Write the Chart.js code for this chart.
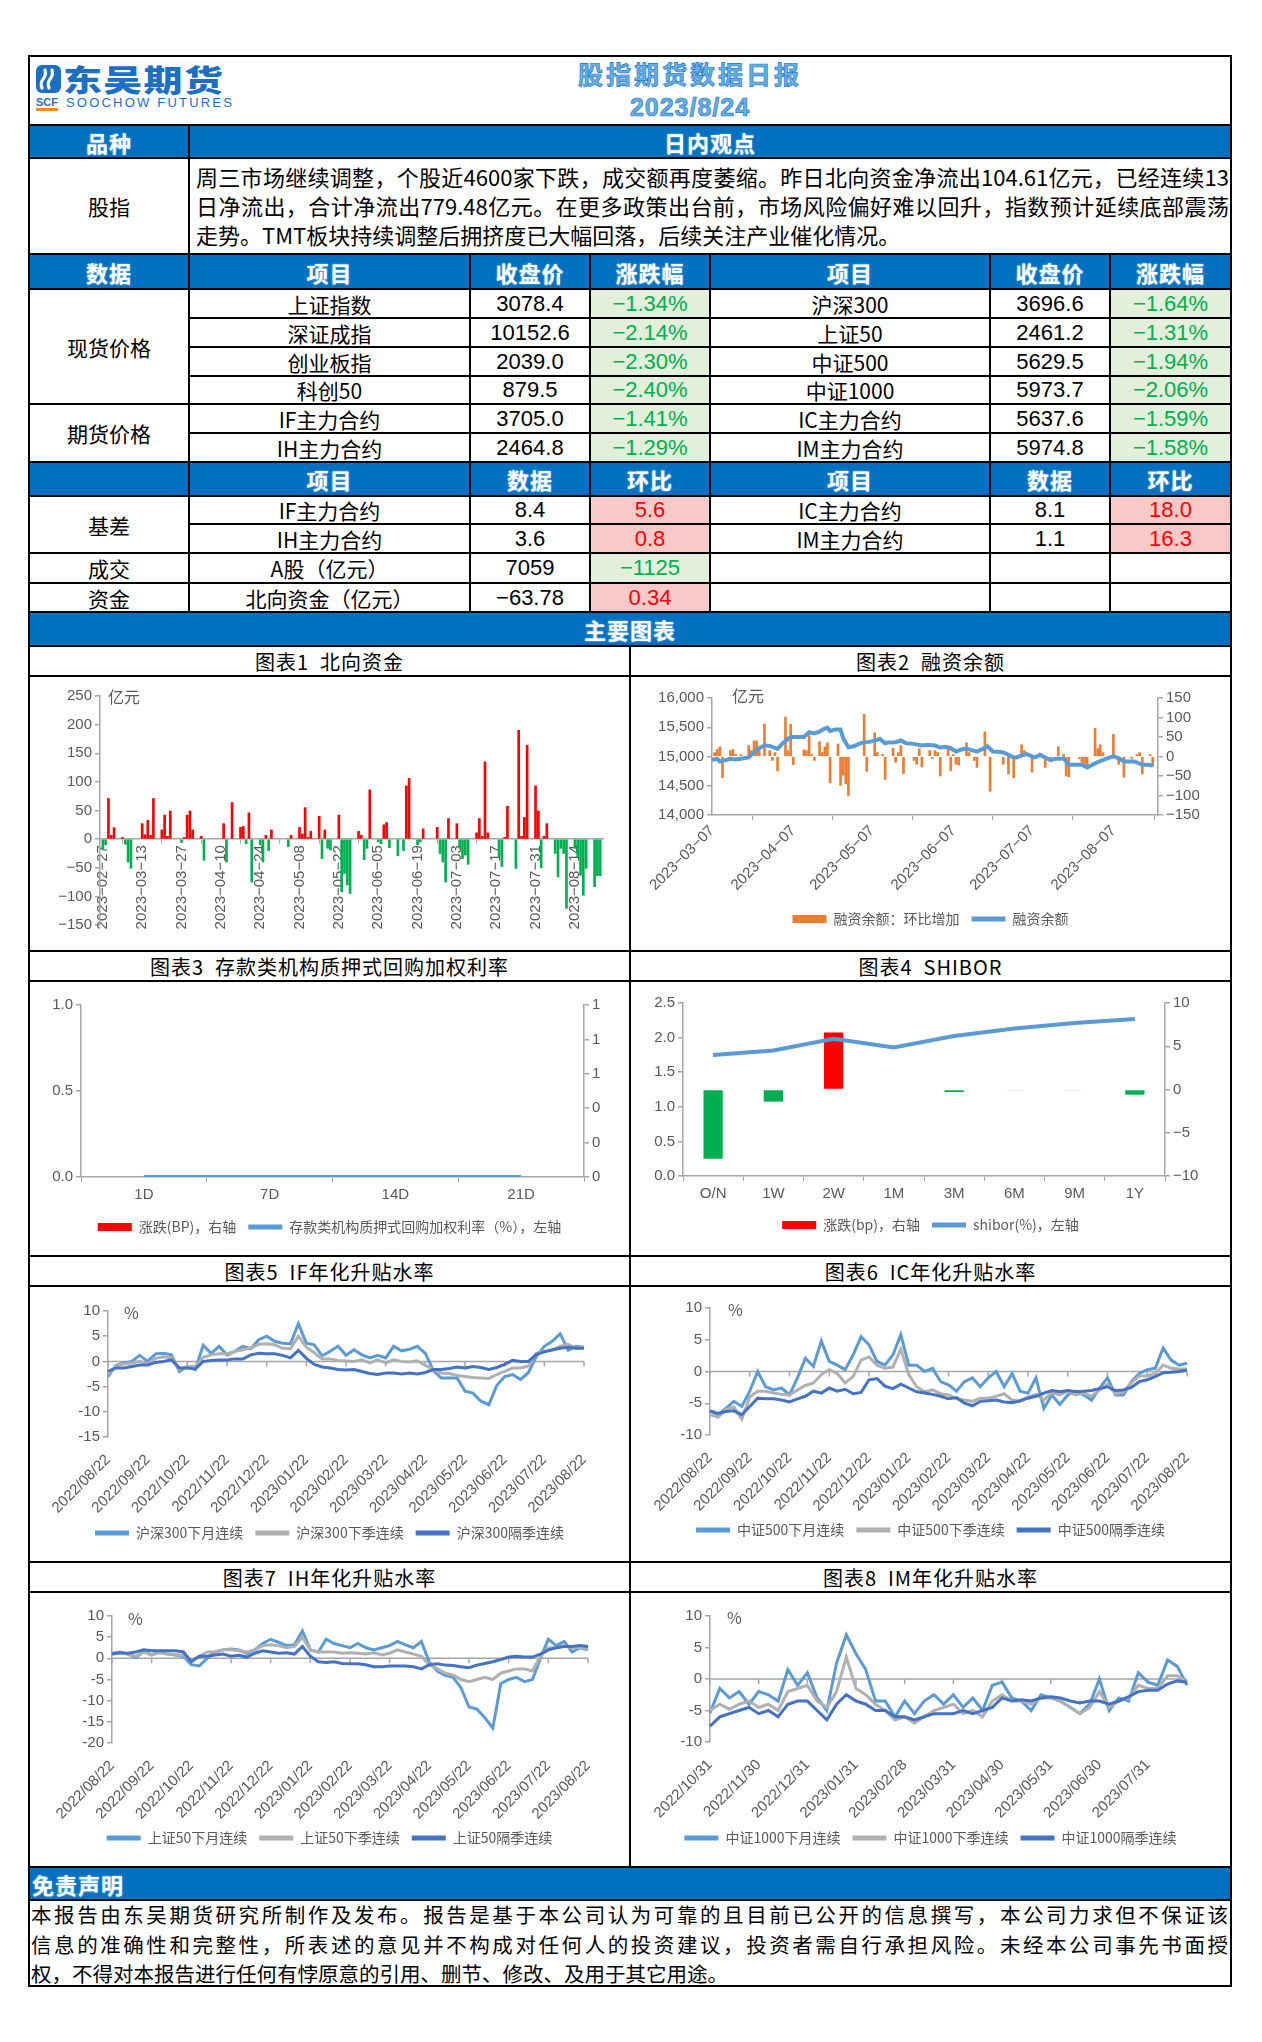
<!DOCTYPE html>
<html lang="zh-CN">
<head>
<meta charset="utf-8">
<title>股指期货数据日报</title>
<script src="https://cdn.jsdelivr.net/npm/chart.js@4.4.1/dist/chart.umd.min.js"></script>
<style>
  html, body { margin: 0; padding: 0; background: #fff; }
  body { width: 1262px; height: 2042px; position: relative; overflow: hidden;
         font-family: "Noto Sans CJK SC", "Liberation Sans", sans-serif; }
  .cell { position: absolute; box-sizing: border-box; border: 1px solid #000; background: #fff;
          display: flex; align-items: center; justify-content: center; white-space: nowrap;
          font-size: 21px; color: #000; overflow: hidden; }
  .blue { background: #0070c0; color: #fff; font-weight: 700; font-size: 22px; letter-spacing: 1px;
          text-shadow: 0 0 2px #9fd4ff; }
  .left { justify-content: flex-start; padding-left: 2px; }
  .green { background: #e2efda; color: #00b050; }
  .red { background: #f8c9c9; color: #ff0000; }
  .num { font-family: "Liberation Sans Narrow", "Liberation Sans", sans-serif; font-size: 22px; }
  .ctitle { font-size: 20px; letter-spacing: 1px; }
  .para { position: absolute; font-size: 22px; line-height: 29px; color: #000; }
  .para div { text-align: justify; text-align-last: justify; }
  .para div.last { text-align-last: left; }
  .box { position: absolute; }
  #frame { position: absolute; left: 28px; top: 55px; width: 1204px; height: 1932px;
           box-sizing: border-box; border: 2px solid #000; pointer-events: none; }
  .ttl { position: absolute; left: 390px; width: 600px; text-align: center; font-weight: 700;
         color: #66b0ea; -webkit-text-stroke: 0.7px #2676c4; letter-spacing: 3px; }
  #logoCn { position: absolute; left: 63px; top: 63px; font-size: 30px; line-height: 31px; font-weight: 900;
            color: #1d6fc2; transform: scaleX(1.3); transform-origin: left top; letter-spacing: 1px; }
  #logoScf { position: absolute; left: 36px; top: 96px; font: bold 11px "Liberation Sans", sans-serif;
             color: #1d6fc2; border-bottom: 3px solid #f08a24; line-height: 12px; }
  #logoEn { position: absolute; left: 66px; top: 96px; font: 13px "Liberation Sans Narrow", "Liberation Sans", sans-serif;
            line-height: 14px; color: #1d6fc2; letter-spacing: 2.2px; }
</style>
</head>
<body>
<div id="frame"></div>
<script>
  "use strict";

  const $ = (id) => document.getElementById(id);

  // ── Table data ──────────────────────────────────────────────
  const spotHeads = ["数据", "项目", "收盘价", "涨跌幅", "项目", "收盘价", "涨跌幅"];
  const priceRows = [
    ["上证指数", "3078.4", "−1.34%", "沪深300", "3696.6", "−1.64%"],
    ["深证成指", "10152.6", "−2.14%", "上证50", "2461.2", "−1.31%"],
    ["创业板指", "2039.0", "−2.30%", "中证500", "5629.5", "−1.94%"],
    ["科创50", "879.5", "−2.40%", "中证1000", "5973.7", "−2.06%"],
    ["IF主力合约", "3705.0", "−1.41%", "IC主力合约", "5637.6", "−1.59%"],
    ["IH主力合约", "2464.8", "−1.29%", "IM主力合约", "5974.8", "−1.58%"]
  ];
  const basisHeads = ["", "项目", "数据", "环比", "项目", "数据", "环比"];
  const basisRows = [
    ["IF主力合约", "8.4", "5.6", "IC主力合约", "8.1", "18.0"],
    ["IH主力合约", "3.6", "0.8", "IM主力合约", "1.1", "16.3"]
  ];
  const viewLines = [
    "周三市场继续调整，个股近4600家下跌，成交额再度萎缩。昨日北向资金净流出104.61亿元，已经连续13",
    "日净流出，合计净流出779.48亿元。在更多政策出台前，市场风险偏好难以回升，指数预计延续底部震荡",
    "走势。TMT板块持续调整后拥挤度已大幅回落，后续关注产业催化情况。"
  ];
  const disclaimerLines = [
    "本报告由东吴期货研究所制作及发布。报告是基于本公司认为可靠的且目前已公开的信息撰写，本公司力求但不保证该",
    "信息的准确性和完整性，所表述的意见并不构成对任何人的投资建议，投资者需自行承担风险。未经本公司事先书面授",
    "权，不得对本报告进行任何有悖原意的引用、删节、修改、及用于其它用途。"
  ];
  const chartTitles = [
    "图表1&nbsp;&nbsp;北向资金", "图表2&nbsp;&nbsp;融资余额",
    "图表3&nbsp;&nbsp;存款类机构质押式回购加权利率", "图表4&nbsp;&nbsp;SHIBOR",
    "图表5&nbsp;&nbsp;IF年化升贴水率", "图表6&nbsp;&nbsp;IC年化升贴水率",
    "图表7&nbsp;&nbsp;IH年化升贴水率", "图表8&nbsp;&nbsp;IM年化升贴水率"
  ];

  // ── Chart 1: 北向资金 (亿元) ────────────────────────────────
  const northDates = ["02-27","02-28","03-01","03-02","03-03","03-06","03-07","03-08","03-09","03-13","03-14","03-15","03-16","03-17","03-20","03-21","03-22","03-23","03-27","03-28","03-29","03-30","03-31","04-03","04-04","04-11","04-12","04-14","04-17","04-18","04-19","04-20","04-21","04-24","04-25","04-26","04-27","04-28","05-04","05-05","05-08","05-09","05-10","05-11","05-12","05-15","05-16","05-17","05-18","05-19","05-22","05-23","05-24","05-25","05-26","05-29","05-30","05-31","06-01","06-02","06-05","06-06","06-07","06-08","06-09","06-12","06-14","06-15","06-16","06-19","06-20","06-21","06-26","06-27","06-28","06-29","06-30","07-03","07-04","07-05","07-06","07-07","07-10","07-11","07-12","07-13","07-14","07-18","07-19","07-20","07-21","07-24","07-25","07-26","07-27","07-28","07-31","08-01","08-02","08-03","08-04","08-07","08-08","08-09","08-10","08-11","08-14","08-15","08-16","08-17","08-18","08-21","08-22","08-23"];
  const northFlow = [-19,-10,71,6.5,20,3,-9,-40,-51,27,7.6,33,6.5,71,16,42,5,49,-6,3,42,49,16,5,-37,27,-40,64,20.5,22,-8,46,-75,-10,-40,6.5,-20,16,-13,6.5,20.5,9,55,3,13.5,40,-34,16,-16,-19,42,-92,-60,-80,-95,13.5,6.5,-36,-16,86,-5,-8,25,29,-15,-29,-20,93,106,-10,-5,18,20.5,-25,-40,-75,36,27,-16,-34,-28,-44,11,36,5,135,11,-30,-48,3,57.5,-51,190,5,38,164,93,49,-50,5,27,-25,-66,-16,-25,-121,-16,-31,-63,-98,-51,-83,-64,-64];
  const northTicks = ["02-27","03-13","03-27","04-10","04-24","05-08","05-22","06-05","06-19","07-03","07-17","07-31","08-14"];

  // ── Chart 2: 融资余额 (亿元) ────────────────────────────────
  const marginDates = ["03-07","03-09","03-10","03-12","03-14","03-16","03-18","03-21","03-23","03-25","03-27","03-29","04-01","04-03","04-05","04-06","04-09","04-11","04-13","04-15","04-17","04-18","04-20","04-21","04-23","04-25","04-26","04-28","04-30","05-02","05-04","05-06","05-09","05-10","05-12","05-13","05-16","05-18","05-20","05-23","05-26","05-28","05-31","06-02","06-04","06-06","06-08","06-10","06-12","06-14","06-16","06-18","06-20","06-22","06-24","06-26","06-28","06-30","07-01","07-03","07-05","07-08","07-10","07-12","07-14","07-16","07-18","07-19","07-21","07-23","07-26","07-28","07-30","08-01","08-03","08-05","08-07","08-09","08-11","08-13","08-15","08-18","08-20","08-22"];
  const marginBal = [14943,14960,14915,14937,14960,14950,14960,14983,15074,15142,15187,15180,15131,15227,15301,15335,15335,15335,15415,15395,15426,15455,15494,15437,15460,15460,15312,15159,15176,15216,15244,15250,15284,15301,15227,15238,15244,15273,15227,15216,15187,15199,15187,15153,15165,15142,15085,15119,15136,15108,15085,15125,15176,15085,15080,15068,15028,14983,14983,15017,15040,14983,15028,14983,14937,14960,14960,14971,14858,14858,14858,14812,14858,14903,14937,14971,15006,14971,14915,14915,14915,14858,14858,14847];
  const marginChgDates = ["03-08","03-09","03-10","03-11","03-14","03-15","03-16","03-17","03-18","03-21","03-22","03-23","03-24","03-25","03-27","03-29","03-30","03-31","04-01","04-04","04-05","04-06","04-07","04-11","04-12","04-13","04-14","04-15","04-17","04-18","04-19","04-20","04-21","04-24","04-25","04-26","04-27","04-28","05-04","05-05","05-08","05-09","05-11","05-12","05-15","05-16","05-17","05-18","05-19","05-23","05-24","05-25","05-26","05-29","05-30","05-31","06-01","06-02","06-05","06-06","06-07","06-08","06-09","06-12","06-13","06-15","06-16","06-19","06-21","06-26","06-28","06-30","07-03","07-04","07-07","07-10","07-12","07-14","07-17","07-19","07-20","07-21","07-25","07-26","07-27","07-28","07-31","08-01","08-02","08-03","08-07","08-09","08-11","08-14","08-16","08-17","08-18","08-21","08-22"];
  const marginChg = [10,18,25,-54,15,18,5,-5,5,28,15,40,40,15,83,15,-10,10,-37,101,15,83,-21,17,15,54,5,-10,38,10,25,35,-68,32,-74,-48,-70,-100,108,-38,61,10,5,-59,21,-15,10,28,-44,-10,-20,20,-27,15,-5,15,10,-50,25,-36,5,-20,-22,35,10,-10,-28,63,-89,-20,-45,-55,30,15,-40,5,-28,-10,25,5,-50,-52,-5,-15,-18,-25,72,20,30,10,57,-20,-53,-5,5,10,-45,5,-25];
  const marginTicks = ["03-07","04-07","05-07","06-07","07-07","08-07"];

  // ── Chart 3: 存款类机构质押式回购加权利率 ───────────────────
  const repoTerms = ["1D", "7D", "14D", "21D"];
  const repoRate = [0, 0, 0, 0];
  const repoChg = [0, 0, 0, 0];

  // ── Chart 4: SHIBOR ─────────────────────────────────────────
  const shiborTerms = ["O/N", "1W", "2W", "1M", "3M", "6M", "9M", "1Y"];
  const shiborRate = [1.747, 1.815, 1.984, 1.856, 2.024, 2.132, 2.212, 2.270];
  const shiborChg = [-8.0, -1.4, 6.6, 0, -0.3, -0.1, -0.1, -0.6];

  // ── Charts 5-7: 年化升贴水率 (%) ─────────────────────────────
  const basisDates = [
    "2022/08/22","2022/08/28","2022/09/04","2022/09/10","2022/09/16",
    "2022/09/22","2022/09/28","2022/10/04","2022/10/10","2022/10/16",
    "2022/10/22","2022/10/28","2022/11/04","2022/11/10","2022/11/16",
    "2022/11/22","2022/11/28","2022/12/04","2022/12/10","2022/12/16",
    "2022/12/22","2022/12/28","2023/01/04","2023/01/10","2023/01/16",
    "2023/01/22","2023/01/28","2023/02/04","2023/02/10","2023/02/16",
    "2023/02/22","2023/02/28","2023/03/04","2023/03/10","2023/03/16",
    "2023/03/22","2023/03/28","2023/04/04","2023/04/10","2023/04/16",
    "2023/04/22","2023/04/28","2023/05/04","2023/05/10","2023/05/16",
    "2023/05/22","2023/05/28","2023/06/04","2023/06/10","2023/06/16",
    "2023/06/22","2023/06/28","2023/07/04","2023/07/10","2023/07/16",
    "2023/07/22","2023/07/28","2023/08/04","2023/08/10","2023/08/16",
    "2023/08/22"];
  const basisTicks = ["2022/08/22","2022/09/22","2022/10/22","2022/11/22","2022/12/22","2023/01/22","2023/02/22","2023/03/22","2023/04/22","2023/05/22","2023/06/22","2023/07/22","2023/08/22"];

  const ifNext = [-3.0,-0.8,-0.3,0,1.2, 0,1.5,1.6,1.3,-2.0, -1.0,-1.6,3.2,1.6,3.0, 1.3,2.0,3.0,2.5,4.3, 5.0,4.0,3.6,3.5,7.5, 3.6,3.3,1.1,2.0,3.0, 1.2,2.3,1.3,0.7,1.2, 0.7,3.0,2.1,2.4,3.0, 1.6,-1.8,-3.3,-3.3,-3.3, -5.9,-6.3,-7.9,-8.6,-4.8, -3.0,-2.6,-3.6,-2.2,1.0, 3.0,4.0,5.5,2.2,3.0, 2.8];
  const ifQtr = [-2.5,-1.0,-0.5,-0.3,0, -0.5,0.6,0.9,0.7,-1.6, -1.0,-1.0,0.8,1.3,1.5, 1.5,2.0,2.3,2.7,3.4, 3.5,3.3,2.6,2.5,5.0, 2.8,1.7,0.5,0.5,0.2, 0.1,0,0.3,-0.3,0.3, -0.3,0.3,0,-0.1,0.1, -0.8,-1.6,-2.3,-2.4,-2.8, -3.0,-3.2,-3.3,-3.4,-2.6, -2.0,-1.3,-1.3,-0.9,1.6, 2.0,2.2,3.0,3.4,2.6, 2.8];
  const ifFar = [-2.0,-1.3,-1.3,-1.0,-0.7, -0.7,-0.2,0,0.3,-1.3, -1.3,-1.5,0,0.2,0.3, 0.3,0.5,0.5,1.3,1.6, 1.5,1.5,1.2,0.7,2.2, 0.6,-0.6,-1.1,-1.3,-1.6, -1.7,-1.6,-2.0,-2.4,-2.6, -2.3,-2.3,-2.5,-2.3,-2.5, -2.2,-1.6,-1.6,-1.4,-1.1, -1.3,-1.0,-1.2,-1.6,-1.2, -0.6,0.2,0,0,1.4, 1.9,2.3,2.6,2.8,2.6, 2.6];

  const icNext = [-6.2,-6.8,-5.8,-4.7,-5.5, -3.1,0,-2.4,-2.9,-2.6, -3.7,-1.0,2.1,0.8,4.8, 1.6,1.0,0.3,2.6,5.5, 4.2,1.6,1.0,2.6,5.8, 1.0,1.0,0,0.5,-1.6, -2.1,-3.1,-1.6,-1.0,-2.4, -1.0,0,-2.4,-0.3,-3.1, -3.4,-1.0,-5.8,-3.7,-5.2, -3.7,-3.1,-3.7,-4.5,-2.6, -1.0,-3.7,-3.7,-1.6,-0.3, 0.3,0.5,3.7,1.8,1.0, 1.3];
  const icQtr = [-6.8,-7.2,-6.0,-5.6,-7.5, -4.0,-3.1,-3.1,-3.4,-3.6, -3.7,-2.9,-2.2,-1.8,-0.5, 0.3,-0.3,-1.8,-0.8,1.8, 2.3,1.0,0.5,0.7,3.5, -0.5,-2.4,-3.2,-2.9,-3.5, -3.7,-4.3,-4.5,-4.7,-4.2, -4.2,-3.9,-3.5,-4.5,-4.7, -4.0,-3.6,-4.5,-3.3,-3.7, -3.1,-3.7,-3.4,-3.9,-2.9, -2.0,-3.5,-3.2,-1.8,-0.7, -0.7,-0.3,1.0,0.5,0.4, 0.4];
  const icFar = [-6.2,-6.6,-6.3,-6.2,-6.8, -5.5,-4.2,-4.3,-4.3,-4.5, -4.8,-4.3,-3.9,-3.1,-3.4, -2.6,-3.1,-2.8,-3.5,-3.3, -1.3,-1.1,-2.3,-2.7,-2.0, -2.6,-3.2,-3.4,-3.6,-3.9, -4.3,-4.1,-5.0,-5.4,-4.7, -4.6,-4.5,-4.8,-4.9,-4.6, -4.2,-3.9,-3.4,-3.0,-3.2, -3.0,-3.2,-3.1,-3.0,-2.7, -2.4,-3.0,-2.9,-2.5,-1.6, -1.3,-0.8,-0.2,-0.1,0, 0.2];

  const ihNext = [1.2,1.5,1.0,0.2,1.6, 0.8,1.5,1.0,0.8,0.5, -1.5,-1.8,0,1.5,2.0, 2.2,2.0,1.2,2.0,3.5, 4.5,3.8,3.0,3.2,6.5, 2.0,1.5,4.5,3.5,3.0, 2.5,3.5,2.5,2.0,2.5, 3.0,4.0,3.2,2.5,4.0, -1.0,-3.0,-4.0,-4.5,-7.0, -11.5,-12.0,-14.0,-16.5,-6.0, -5.0,-4.5,-5.5,-5.0,0, 4.5,3.0,4.0,1.5,2.5, 2.0];
  const ihQtr = [1.0,1.3,1.0,0.5,1.5, 0.8,1.3,1.0,0.8,0.8, -0.5,0.5,1.5,1.5,2.0, 2.0,1.8,1.5,2.0,3.0, 3.2,3.0,2.5,2.8,5.0, 2.0,1.5,1.5,1.5,1.2, 1.3,1.2,1.0,1.3,0.8, 1.2,2.0,1.5,1.0,0.5, -1.5,-2.5,-3.5,-4.0,-5.0, -5.5,-5.0,-4.5,-5.0,-3.5, -3.0,-2.5,-2.5,-3.0,0.5, 2.5,2.5,3.0,2.5,2.5, 2.3];
  const ihFar = [1.0,1.3,1.2,1.5,2.0, 1.8,1.8,1.8,1.8,1.5, -0.8,0.5,0.5,0.8,1.0, 0.5,0.7,0.3,1.2,1.8, 1.5,1.2,1.3,1.0,2.8, 0.5,-0.8,-1.0,-0.8,-1.2, -1.3,-1.3,-1.5,-2.0,-2.0, -1.8,-1.8,-1.8,-2.0,-2.5, -1.5,-1.3,-1.6,-1.7,-2.0, -2.2,-1.6,-1.2,-0.8,-0.3, 0.3,0.5,0.3,0.3,1.0, 2.0,2.5,2.8,2.8,3.0, 2.8];

  // ── Chart 8: IM 年化升贴水率 (%) ─────────────────────────────
  const imDates = [
    "2022/10/31","2022/11/06","2022/11/12","2022/11/18","2022/11/24",
    "2022/11/30","2022/12/06","2022/12/12","2022/12/18","2022/12/24",
    "2022/12/31","2023/01/06","2023/01/12","2023/01/18","2023/01/24",
    "2023/01/31","2023/02/06","2023/02/12","2023/02/18","2023/02/23",
    "2023/02/28","2023/03/06","2023/03/12","2023/03/18","2023/03/24",
    "2023/03/31","2023/04/06","2023/04/12","2023/04/18","2023/04/24",
    "2023/04/30","2023/05/06","2023/05/12","2023/05/18","2023/05/24",
    "2023/05/31","2023/06/06","2023/06/12","2023/06/18","2023/06/24",
    "2023/06/30","2023/07/06","2023/07/12","2023/07/18","2023/07/24",
    "2023/07/31","2023/08/06","2023/08/12","2023/08/18","2023/08/23"];
  const imTicks = ["2022/10/31","2022/11/30","2022/12/31","2023/01/31","2023/02/28","2023/03/31","2023/04/30","2023/05/31","2023/06/30","2023/07/31"];
  const imNext = [-5.4,-1.5,-3.0,-2.0,-4.0, -2.0,-2.5,-3.5,1.5,-1.0, 1.0,-3.0,-5.0,2.5,7.0, 4.0,1.5,-3.5,-3.5,-6.0, -3.5,-5.5,-3.5,-2.5,-4.0, -2.5,-4.5,-3.0,-5.0,-1.0, -0.5,-3.0,-3.5,-5.0,-2.5, -3.0,-3.5,-4.5,-5.5,-4.0, 0.0,-5.0,-3.0,-3.5,1.0, -0.5,-1.0,3.0,2.0,-1.0];
  const imQtr = [-5.0,-4.0,-4.8,-4.0,-3.5, -4.5,-4.0,-5.0,-2.0,-1.5, -1.0,-3.5,-4.5,-2.0,3.5, -1.5,-2.5,-4.0,-5.0,-6.5, -6.0,-7.0,-6.0,-5.0,-4.5, -4.0,-5.5,-5.0,-6.0,-3.5, -2.5,-3.5,-3.5,-4.0,-3.0, -3.0,-3.5,-4.5,-5.5,-4.5, -2.0,-4.5,-3.5,-3.0,-1.0, -1.5,-1.5,0.5,0.5,-0.5];
  const imFar = [-7.5,-6.0,-5.5,-5.0,-4.5, -5.5,-5.0,-6.0,-4.0,-3.5, -3.5,-5.0,-6.5,-4.0,-2.5, -3.5,-4.0,-5.0,-5.0,-6.0, -6.0,-6.5,-6.0,-5.5,-5.5, -5.5,-5.0,-5.5,-5.0,-4.5, -3.0,-3.5,-3.3,-3.5,-3.0, -2.8,-3.0,-3.5,-3.8,-3.5, -3.5,-4.0,-3.5,-2.8,-2.0, -1.8,-1.8,-0.8,-0.3,-0.5];

  // ── Design tokens ──────────────────
  const C = {
    red: "#ff0000",
    green: "#00b050",
    orange: "#ed7d31",
    blue: "#5b9bd5",
    gray: "#b0b0b0",
    navy: "#4472c4",
    axis: "#a6a6a6",
    text: "#595959"
  };
  const NUM_FONT = "'Liberation Sans', 'Noto Sans CJK SC', sans-serif";
  const CJK_FONT = "'Noto Sans CJK SC', 'Liberation Sans', sans-serif";

  Chart.defaults.font.family = NUM_FONT;
  Chart.defaults.font.size = 15;
  Chart.defaults.color = C.text;
  Chart.defaults.animation = false;
  Chart.defaults.plugins.tooltip.enabled = false;

  /* ── page skeleton ─────────────────────────────────────────── */
  const X = [29, 189, 470, 590, 710, 990, 1110, 1231];
  const R = [56, 125, 158, 254, 289, 318, 347, 376, 404, 433, 462, 496, 524, 553, 583, 612, 646];
  const CY = [646, 676, 951, 981, 1256, 1286, 1562, 1592, 1867];
  const MID = 630;

  function cell(x0, y0, x1, y1, html, cls) {
    const d = document.createElement("div");
    d.className = "cell " + (cls || "");
    d.style.cssText = `left:${x0}px;top:${y0}px;width:${x1 - x0}px;height:${y1 - y0}px;`;
    if (html != null) d.innerHTML = html;
    document.body.insertBefore(d, $("frame"));
    return d;
  }

  function addEl(html) {
    const w = document.createElement("div");
    w.innerHTML = html;
    const el = w.firstElementChild;
    document.body.appendChild(el);
    return el;
  }

  // header
  cell(X[0], R[0], X[7], R[1], "");
  addEl(`<svg style="position:absolute;left:36px;top:65px" width="25" height="28" viewBox="0 0 25 28">
    <rect width="25" height="28" rx="6" fill="#1d6fc2"/>
    <path d="M6 23 C 2 14, 12 14, 9 5 M13 23 C 9 14, 19 14, 16 5" stroke="#fff" stroke-width="3.2" fill="none" stroke-linecap="round"/></svg>`);
  addEl(`<div id="logoCn">东吴期货</div>`);
  addEl(`<div id="logoScf">SCF</div>`);
  addEl(`<div id="logoEn">SOOCHOW FUTURES</div>`);
  addEl(`<div class="ttl" style="top:57px;font-size:25px;line-height:32px">股指期货数据日报</div>`);
  addEl(`<div class="ttl" style="top:91px;font-size:25px;line-height:32px;font-family:'Liberation Sans',sans-serif;letter-spacing:1px">2023/8/24</div>`);

  // 日内观点
  cell(X[0], R[1], X[1], R[2], "品种", "blue");
  cell(X[1], R[1], X[7], R[2], "日内观点", "blue");
  cell(X[0], R[2], X[1], R[3], "股指");
  cell(X[1], R[2], X[7], R[3], "");
  addEl(`<div class="para" style="left:196px;top:162px;width:1033px">${viewLines.map((l, i) =>
    `<div class="${i === viewLines.length - 1 ? "last" : ""}">${l}</div>`).join("")}</div>`);

  // price table
  spotHeads.forEach((h, i) => cell(X[i], R[3], X[i + 1], R[4], h, "blue"));
  priceRows.forEach((row, r) => {
    const y0 = R[4 + r], y1 = R[5 + r];
    row.forEach((v, c) => {
      const cls = (c === 2 || c === 5) ? "green num" : (c === 1 || c === 4) ? "num" : "";
      cell(X[c + 1], y0, X[c + 2], y1, v, cls);
    });
  });
  cell(X[0], R[4], X[1], R[8], "现货价格");
  cell(X[0], R[8], X[1], R[10], "期货价格");

  basisHeads.forEach((h, i) => cell(X[i], R[10], X[i + 1], R[11], h, "blue"));
  basisRows.forEach((row, r) => {
    const y0 = R[11 + r], y1 = R[12 + r];
    row.forEach((v, c) => {
      const cls = (c === 2 || c === 5) ? "red num" : (c === 1 || c === 4) ? "num" : "";
      cell(X[c + 1], y0, X[c + 2], y1, v, cls);
    });
  });
  cell(X[0], R[11], X[1], R[13], "基差");
  [["成交", "A股（亿元）", "7059", "−1125", "green num"], ["资金", "北向资金（亿元）", "−63.78", "0.34", "red num"]]
    .forEach((row, r) => {
      const y0 = R[13 + r], y1 = R[14 + r];
      cell(X[0], y0, X[1], y1, row[0]);
      cell(X[1], y0, X[2], y1, row[1]);
      cell(X[2], y0, X[3], y1, row[2], "num");
      cell(X[3], y0, X[4], y1, row[3], row[4]);
      for (let c = 4; c < 7; c++) cell(X[c], y0, X[c + 1], y1, "");
    });
  cell(X[0], R[15], X[7], R[16], "主要图表", "blue");

  // chart grid
  for (let k = 0; k < 4; k++) {
    const ty0 = CY[2 * k], ty1 = CY[2 * k + 1], cy1 = CY[2 * k + 2];
    [[X[0], MID], [MID, X[7]]].forEach(([x0, x1], side) => {
      cell(x0, ty0, x1, ty1, chartTitles[2 * k + side], "ctitle");
      cell(x0, ty1, x1, cy1, "");
      const id = "c" + (2 * k + side + 1);
      addEl(`<div class="box" style="left:${x0 + 1}px;top:${ty1 + 1}px"><canvas id="${id}" width="${x1 - x0 - 2}" height="${cy1 - ty1 - 2}"></canvas></div>`);
    });
  }

  // disclaimer
  cell(X[0], 1867, X[7], 1900, "免责声明", "blue left");
  cell(X[0], 1900, X[7], 1986, "");
  addEl(`<div class="para" style="left:31px;top:1900px;width:1197px;font-size:20.5px;line-height:29.5px">${disclaimerLines.map((l, i) =>
    `<div class="${i === disclaimerLines.length - 1 ? "last" : ""}">${l}</div>`).join("")}</div>`);

  /* ── chart helpers ─────────────────────────────────────────── */
  const DAY = 86400000;
  const md = (s) => Date.UTC(2023, +s.slice(0, 2) - 1, +s.slice(3, 5));
  const fmtDay = (base, v) => new Date(base + v * DAY).toISOString().slice(0, 10).replace(/-/g, "−");
  const minus = (v) => String(v).replace("-", "−");
  const fixW = (w) => (s) => { s.width = w; };
  const fixH = (h) => (s) => { s.height = h; };

  const sideAxis = (extra) => Object.assign({
    grid: { drawOnChartArea: false, color: C.axis, tickLength: 5, lineWidth: 1.5 },
    border: { color: C.axis, width: 1.5 },
    ticks: { color: C.text, padding: 3, autoSkip: false }
  }, extra);

  // invisible axis that only reserves room on the right of the plot
  const spacer = (w) => ({
    position: "right", display: true,
    grid: { display: false }, border: { display: false }, ticks: { display: false },
    afterFit: fixW(w)
  });

  function legendOpts(styles) {
    return {
      position: "bottom",
      labels: {
        usePointStyle: true,
        pointStyleWidth: 34,
        boxHeight: 8,
        padding: 12,
        color: C.text,
        font: { family: CJK_FONT, size: 14 },
        generateLabels: (chart) => Chart.defaults.plugins.legend.labels.generateLabels(chart)
          .sort((a, b) => a.datasetIndex - b.datasetIndex)
          .map((it) => Object.assign(it, styles[it.datasetIndex]))
      }
    };
  }

  function unitPlugin(text, dx, dy) {
    return {
      id: "unitLabel",
      afterDraw(chart) {
        const { ctx, chartArea } = chart;
        ctx.save();
        ctx.font = `16px ${CJK_FONT}`;
        ctx.fillStyle = C.text;
        ctx.textBaseline = "middle";
        ctx.fillText(text, chartArea.left + dx, chartArea.top + dy);
        ctx.restore();
      }
    };
  }

  function zeroAxisPlugin(tickLabels) {
    return {
      id: "zeroAxis",
      beforeDatasetsDraw(chart) {
        const { ctx, chartArea, scales } = chart;
        const y0 = scales.y.getPixelForValue(0);
        ctx.save();
        ctx.strokeStyle = C.axis;
        ctx.lineWidth = 1.5;
        ctx.beginPath();
        ctx.moveTo(chartArea.left, y0);
        ctx.lineTo(chartArea.right, y0);
        chart.data.labels.forEach((l, i) => {
          if (!tickLabels.includes(l)) return;
          const x = scales.x.getPixelForValue(i);
          ctx.moveTo(x, y0);
          ctx.lineTo(x, y0 + 5);
        });
        ctx.stroke();
        ctx.restore();
      }
    };
  }

  /* ── Chart 1: 北向资金 ─────────────────────────────────────── */
  const northBase = md("02-27");
  const northPts = northDates.map((d, i) => ({ x: (md(d) - northBase) / DAY, y: northFlow[i] }));
  new Chart($("c1"), {
    type: "bar",
    data: {
      datasets: [{
        data: northPts,
        backgroundColor: northPts.map((p) => (p.y >= 0 ? C.red : C.green)),
        barThickness: 2
      }]
    },
    options: {
      responsive: false,
      layout: { padding: { left: 0, right: 0, top: 19, bottom: 25 } },
      plugins: { legend: { display: false } },
      scales: {
        x: {
          type: "linear", axis: "x", position: { y: 0 }, min: -1, max: 178, offset: false,
          afterBuildTicks: (s) => { s.ticks = northTicks.map((d) => ({ value: (md(d) - northBase) / DAY })); },
          ticks: { autoSkip: false, minRotation: 90, maxRotation: 90, padding: 2,
                   callback: (v) => fmtDay(northBase, v) },
          grid: { drawOnChartArea: false, color: C.axis, tickLength: 4 },
          border: { color: C.axis, width: 1.5 }
        },
        y: sideAxis({
          min: -150, max: 250,
          ticks: { stepSize: 50, color: C.text, autoSkip: false, callback: minus },
          afterFit: fixW(70)
        }),
        pad: spacer(26)
      }
    },
    plugins: [unitPlugin("亿元", 8, 1)]
  });

  /* ── Chart 2: 融资余额 ─────────────────────────────────────── */
  const mBase = md("03-07");
  const balPts = marginDates.map((d, i) => ({ x: (md(d) - mBase) / DAY, y: marginBal[i] }));
  const chgPts = marginChgDates.map((d, i) => ({ x: (md(d) - mBase) / DAY, y: marginChg[i] }));
  new Chart($("c2"), {
    type: "bar",
    data: {
      datasets: [
        { type: "bar", label: "融资余额：环比增加", data: chgPts, backgroundColor: C.orange,
          barThickness: 2, yAxisID: "y1", order: 2 },
        { type: "line", label: "融资余额", data: balPts, borderColor: C.blue, backgroundColor: C.blue,
          borderWidth: 4, pointRadius: 0, tension: 0, yAxisID: "y", order: 1 }
      ]
    },
    options: {
      responsive: false,
      layout: { padding: { left: 0, right: 0, top: 21, bottom: 14 } },
      plugins: {
        legend: legendOpts([{ pointStyle: "rect", lineWidth: 0 }, { pointStyle: "line", lineWidth: 5 }])
      },
      scales: {
        x: {
          type: "linear", min: 0, max: 170, offset: false,
          afterBuildTicks: (s) => { s.ticks = marginTicks.map((d) => ({ value: (md(d) - mBase) / DAY })); },
          ticks: { autoSkip: false, minRotation: 45, maxRotation: 45, padding: 2,
                   callback: (v) => fmtDay(mBase, v) },
          grid: { drawOnChartArea: false, color: C.axis, tickLength: 5 },
          border: { color: C.axis, width: 1.5 },
          afterFit: fixH(85)
        },
        y: sideAxis({
          position: "left", min: 14000, max: 16000,
          ticks: { stepSize: 500, color: C.text, autoSkip: false, callback: (v) => v.toLocaleString("en-US") },
          afterFit: fixW(81)
        }),
        y1: sideAxis({
          position: "right", min: -150, max: 150,
          ticks: { stepSize: 50, color: C.text, autoSkip: false, callback: minus },
          afterFit: fixW(72)
        })
      }
    },
    plugins: [unitPlugin("亿元", 20, -2)]
  });

  /* ── Charts 3 & 4: money market ───────────────────────────── */
  function rateChart(id, terms, chg, rate, names, left, right, pad, xH, wL, wR) {
    new Chart($(id), {
      type: "bar",
      data: {
        labels: terms,
        datasets: [
          { type: "bar", label: names[0], data: chg, yAxisID: "y1", order: 2,
            backgroundColor: chg.map((v) => (v >= 0 ? C.red : C.green)),
            barPercentage: 0.32, categoryPercentage: 1 },
          { type: "line", label: names[1], data: rate, yAxisID: "y", order: 1,
            borderColor: C.blue, backgroundColor: C.blue, borderWidth: 4, pointRadius: 0, tension: 0 }
        ]
      },
      options: {
        responsive: false,
        layout: { padding: pad },
        plugins: {
          legend: legendOpts([{ pointStyle: "rect", lineWidth: 0, fillStyle: C.red }, { pointStyle: "line", lineWidth: 5 }])
        },
        scales: {
          x: {
            offset: true,
            grid: { offset: true, drawOnChartArea: false, color: C.axis, tickLength: 5 },
            border: { color: C.axis, width: 1.5 },
            ticks: { color: C.text, padding: 4 },
            afterFit: fixH(xH)
          },
          y: sideAxis(Object.assign({ position: "left", afterFit: fixW(wL) }, left)),
          y1: sideAxis(Object.assign({ position: "right", afterFit: fixW(wR) }, right))
        }
      }
    });
  }

  rateChart("c3", repoTerms, repoChg, repoRate,
    ["涨跌(BP)，右轴", "存款类机构质押式回购加权利率（%），左轴"],
    { min: 0, max: 1, ticks: { stepSize: 0.5, color: C.text, autoSkip: false, callback: (v) => v.toFixed(1) } },
    { min: 0, max: 1, ticks: { stepSize: 0.2, color: C.text, autoSkip: false, callback: (v) => String(Math.round(v)) } },
    { left: 0, right: 0, top: 23, bottom: 11 }, 31, 51, 45);

  rateChart("c4", shiborTerms, shiborChg, shiborRate,
    ["涨跌(bp)，右轴", "shibor(%)，左轴"],
    { min: 0, max: 2.5, ticks: { stepSize: 0.5, color: C.text, autoSkip: false, callback: (v) => v.toFixed(1) } },
    { min: -10, max: 10, ticks: { stepSize: 5, color: C.text, autoSkip: false, callback: minus } },
    { left: 0, right: 0, top: 21, bottom: 13 }, 30, 52, 65);

  /* ── Charts 5-8: basis curves ─────────────────────────────── */
  function basisChart(id, labels, tickLabels, series, names, yMin, top, bottom, xH, wL, wR, unit) {
    const colors = [C.blue, C.gray, C.navy];
    new Chart($(id), {
      type: "line",
      data: {
        labels,
        datasets: series.map((s, i) => ({
          label: names[i], data: s, borderColor: colors[i], backgroundColor: colors[i],
          borderWidth: 3, pointRadius: 0, tension: 0, order: 3 - i
        }))
      },
      options: {
        responsive: false,
        layout: { padding: { left: 0, right: 0, top, bottom } },
        plugins: {
          legend: legendOpts(names.map(() => ({ pointStyle: "line", lineWidth: 5 })))
        },
        scales: {
          x: {
            grid: { display: false },
            border: { display: false },
            ticks: {
              autoSkip: false, minRotation: 45, maxRotation: 45, padding: 6, color: C.text,
              callback(v) { const l = this.getLabelForValue(v); return tickLabels.includes(l) ? l : null; }
            },
            afterFit: fixH(xH)
          },
          y: sideAxis({
            min: yMin, max: 10,
            ticks: { stepSize: 5, color: C.text, autoSkip: false },
            afterFit: fixW(wL)
          }),
          pad: spacer(wR)
        }
      },
      plugins: [unitPlugin("%", unit[0], unit[1]), zeroAxisPlugin(tickLabels)]
    });
  }

  basisChart("c5", basisDates, basisTicks, [ifNext, ifQtr, ifFar],
    ["沪深300下月连续", "沪深300下季连续", "沪深300隔季连续"], -15, 24, 11, 77, 78, 45, [16, 2]);
  basisChart("c6", basisDates, basisTicks, [icNext, icQtr, icFar],
    ["中证500下月连续", "中证500下季连续", "中证500隔季连续"], -10, 21, 14, 76, 79, 43, [18, 2]);
  basisChart("c7", basisDates, basisTicks, [ihNext, ihQtr, ihFar],
    ["上证50下月连续", "上证50下季连续", "上证50隔季连续"], -20, 23, 11, 76, 82, 41, [16, 3]);
  basisChart("c8", imDates, imTicks, [imNext, imQtr, imFar],
    ["中证1000下月连续", "中证1000下季连续", "中证1000隔季连续"], -10, 23, 11, 77, 79, 43, [17, 2]);
</script>
</body>
</html>
